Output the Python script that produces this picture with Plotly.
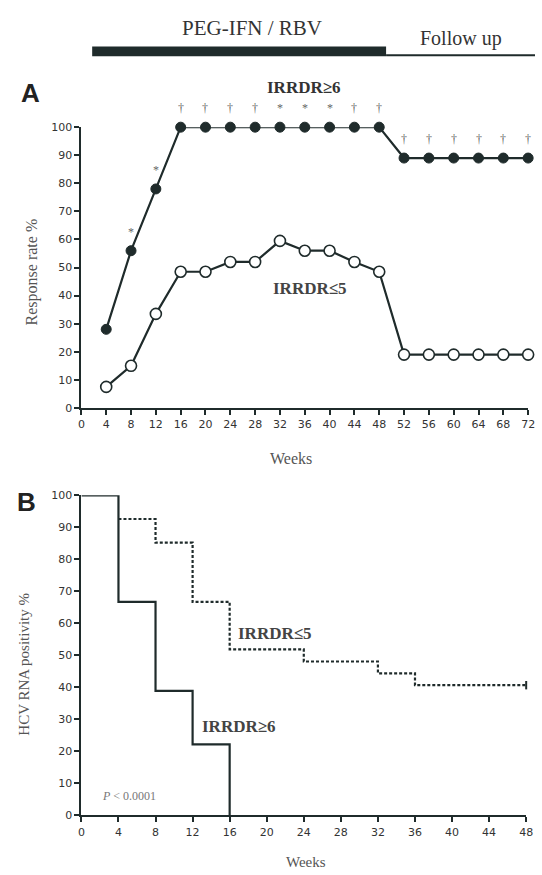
import plotly.graph_objects as go

# ---------------- data ----------------
# Panel A: response rate (%)
weeks_a = [4, 8, 12, 16, 20, 24, 28, 32, 36, 40, 44, 48, 52, 56, 60, 64, 68, 72]
irrdr_hi = [28, 56, 78, 100, 100, 100, 100, 100, 100, 100, 100, 100, 89, 89, 89, 89, 89, 89]
irrdr_lo = [7.5, 15, 33.5, 48.5, 48.5, 52, 52, 59.5, 56, 56, 52, 48.5, 19, 19, 19, 19, 19, 19]
sig_marks = ["", "*", "*", "†", "†", "†", "†", "*", "*", "*", "†", "†", "†", "†", "†", "†", "†", "†"]
xticks_a = list(range(0, 76, 4))
yticks = list(range(0, 110, 10))

# Panel B: HCV RNA positivity (%), Kaplan-Meier style steps
km_hi_weeks = [0, 4, 8, 12, 16]
km_hi_vals = [100, 66.7, 38.9, 22.2, 0]
km_lo_weeks = [4, 8, 12, 16, 24, 32, 36, 48]
km_lo_vals = [92.6, 85.2, 66.7, 51.9, 48.1, 44.4, 40.7, 40.7]
xticks_b = list(range(0, 52, 4))

W, H = 542, 875
INK = "#1f2b2b"
GREY = "#555555"
SERIF = "Liberation Serif, DejaVu Serif, serif"
SANS = "DejaVu Sans, Liberation Sans, sans-serif"
SANS_B = "Liberation Sans, DejaVu Sans, sans-serif"


def px(x):
    return x / W


def py(y):
    return 1 - y / H


fig = go.Figure()

# Panel A traces
fig.add_trace(go.Scatter(
    x=weeks_a, y=irrdr_lo, mode="lines+markers", xaxis="x", yaxis="y",
    line=dict(color=INK, width=2.2),
    marker=dict(symbol="circle", size=11, color="white", line=dict(color=INK, width=1.6)),
    cliponaxis=False, showlegend=False, name="IRRDR≤5"))
fig.add_trace(go.Scatter(
    x=weeks_a, y=irrdr_hi, mode="lines+markers", xaxis="x", yaxis="y",
    line=dict(color=INK, width=2.2),
    marker=dict(symbol="circle", size=10, color=INK, line=dict(color=INK, width=1)),
    cliponaxis=False, showlegend=False, name="IRRDR≥6"))

# Panel B traces
fig.add_trace(go.Scatter(
    x=km_lo_weeks, y=km_lo_vals, mode="lines", xaxis="x2", yaxis="y2",
    line=dict(color=INK, width=2.2, dash="3px,2px", shape="hv"),
    cliponaxis=False, showlegend=False, name="IRRDR≤5"))
fig.add_trace(go.Scatter(
    x=[km_lo_weeks[-1]], y=[km_lo_vals[-1]], mode="markers", xaxis="x2", yaxis="y2",
    marker=dict(symbol="line-ns", size=6, line=dict(color=INK, width=2)),
    cliponaxis=False, showlegend=False, hoverinfo="skip"))
fig.add_trace(go.Scatter(
    x=km_hi_weeks, y=km_hi_vals, mode="lines", xaxis="x2", yaxis="y2",
    line=dict(color=INK, width=2.2, shape="hv"),
    cliponaxis=False, showlegend=False, name="IRRDR≥6"))

axis_common = dict(
    showline=True, linecolor=INK, linewidth=2, showgrid=False, zeroline=False,
    ticks="outside", ticklen=5, tickwidth=2, tickcolor=INK,
    tickfont=dict(family=SANS, size=11, color="#333333"),
    ticklabeloverflow="allow",
)

fig.update_layout(
    width=W, height=H, margin=dict(l=0, r=0, t=0, b=0),
    paper_bgcolor="white", plot_bgcolor="white",
    xaxis=dict(domain=[px(79), px(535)], range=[0, 72], tickvals=xticks_a,
               anchor="y", **axis_common),
    yaxis=dict(domain=[py(408), py(123)], range=[0, 100], tickvals=yticks,
               anchor="x", **axis_common),
    xaxis2=dict(domain=[px(79), px(533)], range=[0, 48], tickvals=xticks_b,
                anchor="y2", **axis_common),
    yaxis2=dict(domain=[py(821.7), py(496.7)], range=[0, 100], tickvals=yticks,
                anchor="x2", **axis_common),
)

C = dict(xanchor="center", yanchor="middle", showarrow=False)
ann = []
# significance marks over panel A filled series
for wk, v, s in zip(weeks_a, irrdr_hi, sig_marks):
    if s:
        ann.append(dict(x=wk, y=v, xref="x", yref="y", text=s, yshift=19,
                        font=dict(family=SERIF, size=12, color="#666666"), **C))

# series labels
ann.append(dict(x=35.8, y=100, xref="x", yref="y", text="<b>IRRDR≥6</b>", yshift=40,
                font=dict(family=SERIF, size=17, color="#333333"), **C))
ann.append(dict(x=36.8, y=42.5, xref="x", yref="y", text="<b>IRRDR≤5</b>",
                font=dict(family=SERIF, size=17, color="#444444"), **C))
ann.append(dict(x=20.9, y=56.8, xref="x2", yref="y2", text="<b>IRRDR≤5</b>",
                font=dict(family=SERIF, size=17, color="#444444"), **C))
ann.append(dict(x=17.0, y=27.7, xref="x2", yref="y2", text="<b>IRRDR≥6</b>",
                font=dict(family=SERIF, size=17, color="#444444"), **C))
ann.append(dict(x=5.1, y=6.0, xref="x2", yref="y2", text="<i>P</i> < 0.0001",
                font=dict(family=SERIF, size=12, color="#777777"), **C))

# axis titles
ann.append(dict(x=px(293), y=py(459), xref="paper", yref="paper", text="Weeks",
                font=dict(family=SERIF, size=16, color=GREY), **C))
ann.append(dict(x=px(308), y=py(869), xref="paper", yref="paper", text="Weeks",
                font=dict(family=SERIF, size=15, color=GREY), **C))
ann.append(dict(x=px(29), y=py(270), xref="paper", yref="paper", text="Response rate %",
                textangle=-90, font=dict(family=SERIF, size=16, color=GREY), **C))
ann.append(dict(x=px(21), y=py(668), xref="paper", yref="paper", text="HCV RNA positivity %",
                textangle=-90, font=dict(family=SERIF, size=15, color=GREY), **C))

# panel letters
ann.append(dict(x=px(27), y=py(88), xref="paper", yref="paper", text="<b>A</b>",
                font=dict(family=SANS_B, size=26, color="#222222"), **C))
ann.append(dict(x=px(23), y=py(503), xref="paper", yref="paper", text="<b>B</b>",
                font=dict(family=SANS_B, size=26, color="#222222"), **C))

# treatment header
ann.append(dict(x=px(253), y=py(22), xref="paper", yref="paper", text="PEG-IFN / RBV",
                font=dict(family=SERIF, size=21, color="#333333"), **C))
ann.append(dict(x=px(466), y=py(33), xref="paper", yref="paper", text="Follow up",
                font=dict(family=SERIF, size=20, color="#333333"), **C))

fig.update_layout(annotations=ann)

fig.add_shape(type="rect", xref="paper", yref="paper",
              x0=px(90), x1=px(390), y0=py(51), y1=py(41),
              fillcolor=INK, line=dict(width=0))
fig.add_shape(type="line", xref="paper", yref="paper",
              x0=px(390), x1=px(542), y0=py(50), y1=py(50),
              line=dict(color=INK, width=2))

fig.write_html(
    "out.html",
    config={"displayModeBar": False},
    post_script="document.body.style.margin='0';document.body.style.overflow='hidden';",
)
